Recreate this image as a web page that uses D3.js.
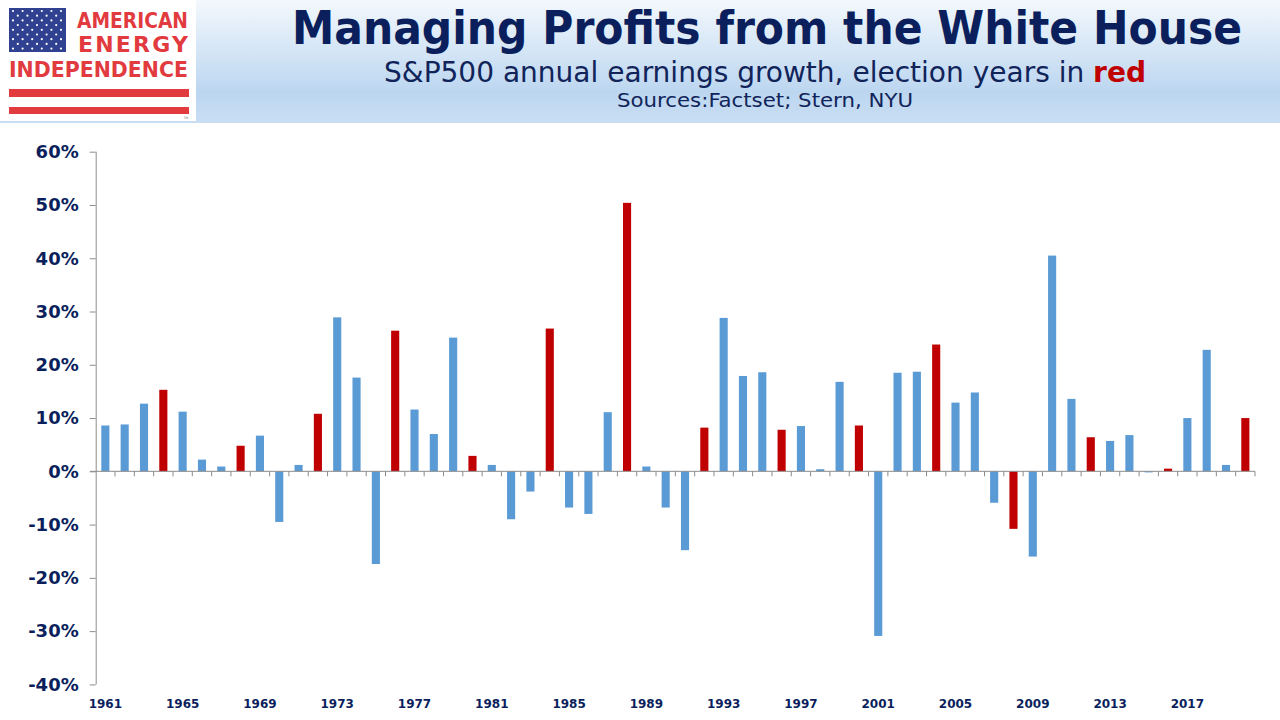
<!DOCTYPE html>
<html>
<head>
<meta charset="utf-8">
<script src="https://cdn.jsdelivr.net/npm/d3@7/dist/d3.min.js"></script>
<style>
  html, body { margin: 0; padding: 0; background: #fff; }
  svg { display: block; }
</style>
</head>
<body>
<svg width="1280" height="720"></svg>
<script>
// data
var years = d3.range(1961, 2021);
var growth = [
  8.6, 8.8, 12.7, 15.3, 11.2, 2.2, 0.9, 4.8, 6.7, -9.5,
  1.2, 10.8, 28.9, 17.6, -17.4, 26.4, 11.6, 7.0, 25.1, 2.9,
  1.2, -9.0, -3.8, 26.8, -6.8, -8.0, 11.1, 50.4, 0.9, -6.8,
  -14.8, 8.2, 28.8, 17.9, 18.6, 7.8, 8.5, 0.4, 16.8, 8.6,
  -30.9, 18.5, 18.7, 23.8, 12.9, 14.8, -5.9, -10.8, -16.0, 40.5,
  13.6, 6.4, 5.7, 6.8, -0.2, 0.5, 10.0, 22.8, 1.2, 10.0
];
var electionYears = [1964, 1968, 1972, 1976, 1980, 1984, 1988, 1992, 1996, 2000, 2004, 2008, 2012, 2016, 2020];
var yTicks = [-40, -30, -20, -10, 0, 10, 20, 30, 40, 50, 60];
var xLabels = [1961, 1965, 1969, 1973, 1977, 1981, 1985, 1989, 1993, 1997, 2001, 2005, 2009, 2013, 2017];

var navy = "#0b1f5c";
var blue = "#5b9bd5";
var red = "#c00000";

var svg = d3.select("svg");
var defs = svg.append("defs");

// header band
var grad = defs.append("linearGradient").attr("id", "hdr")
  .attr("x1", 0).attr("y1", 0).attr("x2", 0).attr("y2", 1);
grad.append("stop").attr("offset", "0%").attr("stop-color", "#f3f8fd");
grad.append("stop").attr("offset", "75%").attr("stop-color", "#bcd6f0");
grad.append("stop").attr("offset", "100%").attr("stop-color", "#c9def3");
svg.append("rect").attr("x", 0).attr("y", 0).attr("width", 1280).attr("height", 123)
  .attr("fill", "url(#hdr)");

// logo
var logo = svg.append("g");
logo.append("rect").attr("x", 0).attr("y", 0).attr("width", 196).attr("height", 121)
  .attr("fill", "#fff");
logo.append("rect").attr("x", 9).attr("y", 8).attr("width", 57).attr("height", 44)
  .attr("fill", "#2f4190");
for (var r = 0; r < 9; r++) {
  for (var c = 0; c < (r % 2 ? 5 : 6); c++) {
    logo.append("circle")
      .attr("cx", 13 + c * 9.6 + (r % 2 ? 4.8 : 0))
      .attr("cy", 11 + r * 4.7)
      .attr("r", 1.1).attr("fill", "#fff");
  }
}
var logoRed = "#e23b3f";
logo.append("text").attr("x", 188).attr("y", 28).attr("text-anchor", "end")
  .attr("font-family", "DejaVu Sans").attr("font-weight", "bold").attr("font-size", 21)
  .attr("fill", logoRed).attr("textLength", 111).attr("lengthAdjust", "spacingAndGlyphs").text("AMERICAN");
logo.append("text").attr("x", 78).attr("y", 52)
  .attr("font-family", "DejaVu Sans").attr("font-weight", "bold").attr("font-size", 22)
  .attr("fill", logoRed).attr("textLength", 110).attr("lengthAdjust", "spacing").text("ENERGY");
logo.append("text").attr("x", 9).attr("y", 77)
  .attr("font-family", "DejaVu Sans").attr("font-weight", "bold").attr("font-size", 21)
  .attr("fill", logoRed).attr("textLength", 179).attr("lengthAdjust", "spacingAndGlyphs").text("INDEPENDENCE");
logo.append("rect").attr("x", 9).attr("y", 89).attr("width", 180).attr("height", 8).attr("fill", logoRed);
logo.append("rect").attr("x", 9).attr("y", 107).attr("width", 180).attr("height", 7).attr("fill", logoRed);
logo.append("text").attr("x", 186).attr("y", 119).attr("text-anchor", "middle")
  .attr("font-family", "DejaVu Sans").attr("font-size", 3).attr("fill", "#666").text("TM");

// titles
svg.append("text").attr("x", 767).attr("y", 44).attr("text-anchor", "middle")
  .attr("font-family", "DejaVu Sans Condensed, DejaVu Sans").attr("font-weight", "bold")
  .attr("font-size", 46).attr("fill", "#0a1f5c")
  .attr("textLength", 950).attr("lengthAdjust", "spacingAndGlyphs")
  .text("Managing Profits from the White House");

var sub = svg.append("text").attr("x", 765).attr("y", 82).attr("text-anchor", "middle")
  .attr("font-family", "DejaVu Sans Condensed, DejaVu Sans")
  .attr("font-size", 29).attr("fill", "#10245a")
  .attr("textLength", 762).attr("lengthAdjust", "spacingAndGlyphs");
sub.append("tspan").text("S&P500 annual earnings growth, election years in ");
sub.append("tspan").attr("font-weight", "bold").attr("fill", red).text("red");

svg.append("text").attr("x", 765).attr("y", 107).attr("text-anchor", "middle")
  .attr("font-family", "DejaVu Sans Condensed, DejaVu Sans")
  .attr("font-size", 20).attr("fill", "#10245a")
  .attr("textLength", 296).attr("lengthAdjust", "spacingAndGlyphs")
  .text("Sources:Factset; Stern, NYU");

// scales
var x = d3.scaleBand().domain(years).range([95.7, 1255]).padding(0);
var y = d3.scaleLinear().domain([-40, 60]).range([684.4, 151.7]);
var barW = x.bandwidth() * 0.42;

// bars
svg.append("g").selectAll("rect")
  .data(years)
  .enter()
  .append("rect")
  .attr("x", function (d) { return x(d) + (x.bandwidth() - barW) / 2; })
  .attr("y", function (d, i) { return y(Math.max(0, growth[i])); })
  .attr("width", barW)
  .attr("height", function (d, i) { return Math.abs(y(growth[i]) - y(0)); })
  .attr("fill", function (d) { return electionYears.indexOf(d) >= 0 ? red : blue; });

// y axis
var yAxis = d3.axisLeft(y)
  .tickValues(yTicks)
  .tickSize(6)
  .tickPadding(11)
  .tickFormat(function (d) { return d + "%"; });
var gy = svg.append("g").attr("transform", "translate(95.7,0)").call(yAxis);
gy.select(".domain").attr("stroke", "#8c8c8c").attr("d", "M0.5," + y(60) + "V" + y(-40));
gy.selectAll(".tick line").attr("stroke", "#8c8c8c");
gy.selectAll(".tick text")
  .attr("font-family", "DejaVu Sans").attr("font-weight", "bold")
  .attr("font-size", 18).attr("fill", navy);

// zero line with category ticks
var boundaries = years.map(function (d) { return x(d); }).concat([x.range()[1]]);
var gx = svg.append("g");
gx.append("line")
  .attr("x1", 90).attr("x2", 1255).attr("y1", y(0)).attr("y2", y(0))
  .attr("stroke", "#8c8c8c").attr("stroke-width", 1);
gx.selectAll(".bt").data(boundaries.slice(1)).enter().append("line")
  .attr("x1", function (d) { return d; }).attr("x2", function (d) { return d; })
  .attr("y1", y(0)).attr("y2", y(0) + 5)
  .attr("stroke", "#8c8c8c").attr("stroke-width", 1);

// x labels
svg.append("g").selectAll("text")
  .data(xLabels)
  .enter()
  .append("text")
  .attr("x", function (d) { return x(d) + x.bandwidth() / 2; })
  .attr("y", 708)
  .attr("text-anchor", "middle")
  .attr("font-family", "DejaVu Sans").attr("font-weight", "bold")
  .attr("font-size", 12).attr("fill", navy)
  .text(function (d) { return d; });
</script>
</body>
</html>
